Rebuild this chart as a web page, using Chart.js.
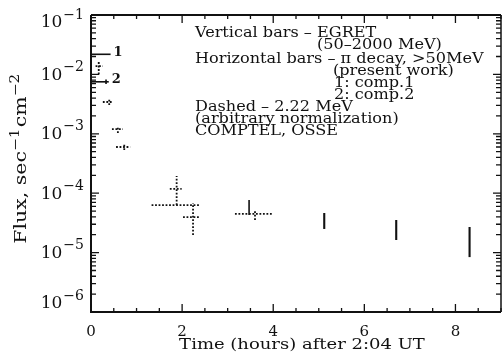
<!DOCTYPE html>
<html>
<head>
<meta charset="utf-8">
<script src="https://cdn.jsdelivr.net/npm/chart.js@4.4.0/dist/chart.umd.min.js"></script>
<style>
  html, body { margin: 0; padding: 0; background: #fff; }
  #wrap { width: 504px; height: 364px; }
</style>
</head>
<body>
<div id="wrap"><canvas id="c" width="504" height="364"></canvas></div>
<script>
// ---------- data ----------
const timeTicks = [0, 2, 4, 6, 8];
const fluxTickExponents = [-1, -2, -3, -4, -5, -6];

// EGRET vertical bars (50-2000 MeV)
const egretTime = [3.47, 5.12, 6.70, 8.31];
const egretLow  = [4.3e-5, 2.5e-5, 1.63e-5, 8.4e-6];
const egretHigh = [7.7e-5, 4.64e-5, 3.54e-5, 2.7e-5];

// pi-decay horizontal bars, comp.1 and comp.2
const piLabels = ['1', '2'];
const piStart  = [0, 0];
const piEnd    = [0.43, 0.39];
const piFlux   = [0.0218, 0.0075];
const piTickTime = [0.33];
const piTickLow  = [0.0069];
const piTickHigh = [0.0082];

// later horizontal bars (dotted in the scan)
const hbarStart = [1.33, 1.73, 2.02, 3.16];
const hbarEnd   = [2.40, 1.99, 2.40, 4.00];
const hbarFlux  = [6.3e-5, 1.18e-4, 3.97e-5, 4.47e-5];

// dotted vertical bars
const vbarTime = [1.88, 2.24, 3.60];
const vbarLow  = [6.3e-5, 1.98e-5, 3.54e-5];
const vbarHigh = [1.95e-4, 6.84e-5, 5.21e-5];

// 2.22 MeV (COMPTEL, OSSE) early points, dashed crosses
const gTime    = [0.17, 0.40, 0.59, 0.73];
const gTimeLo  = [0.10, 0.26, 0.46, 0.55];
const gTimeHi  = [0.26, 0.48, 0.70, 0.86];
const gFlux    = [1.38e-2, 3.43e-3, 1.2e-3, 6.0e-4];
const gFluxLo  = [1.0e-2, 3.05e-3, 1.03e-3, 5.33e-4];
const gFluxHi  = [1.7e-2, 4.0e-3, 1.35e-3, 7.0e-4];

const noteLines = [
  'Vertical bars \u2013 EGRET',
  '(50\u20132000 MeV)',
  'Horizontal bars \u2013 \u03c0 decay, >50MeV',
  '(present work)',
  '1: comp.1',
  '2: comp.2',
  'Dashed \u2013 2.22 MeV',
  '(arbitrary normalization)',
  'COMPTEL, OSSE'
];
const yTitleParts = ['Flux, sec', '\u22121', 'cm', '\u22122'];
const xTitle = 'Time (hours) after 2:04 UT';

// ---------- build datasets ----------
const SERIF = '"DejaVu Serif", "Liberation Serif", serif';
const datasets = [];
function seg(a, b, style) {
  datasets.push(Object.assign({
    data: [a, b], showLine: true, pointRadius: 0, borderColor: '#111',
    borderWidth: 1.6, fill: false, tension: 0
  }, style));
}
const solidThick = { borderWidth: 2.1 };
const solid = { borderWidth: 1.6 };
const dotted = { borderWidth: 1.8, borderDash: [1.8, 1.7] };

egretTime.forEach((t, i) => seg({x: t, y: egretLow[i]}, {x: t, y: egretHigh[i]}, i === 0 ? solid : solidThick));
piFlux.forEach((f, i) => seg({x: piStart[i], y: f}, {x: piEnd[i], y: f}, solid));
piTickTime.forEach((t, i) => seg({x: t, y: piTickLow[i]}, {x: t, y: piTickHigh[i]}, solid));
hbarFlux.forEach((f, i) => seg({x: hbarStart[i], y: f}, {x: hbarEnd[i], y: f}, dotted));
vbarTime.forEach((t, i) => seg({x: t, y: vbarLow[i]}, {x: t, y: vbarHigh[i]}, dotted));
gTime.forEach((t, i) => {
  seg({x: gTimeLo[i], y: gFlux[i]}, {x: gTimeHi[i], y: gFlux[i]}, dotted);
  seg({x: t, y: gFluxLo[i]}, {x: t, y: gFluxHi[i]}, dotted);
});

// ---------- plugin: frame, inward ticks, y labels, titles, notes ----------
function stretchText(ctx, s, x, y, sx) {
  ctx.save();
  ctx.translate(x, y);
  ctx.scale(sx, 1);
  ctx.fillText(s, 0, 0);
  ctx.restore();
}
const decor = {
  id: 'decor',
  afterDatasetsDraw(chart) {
    const ctx = chart.ctx;
    const a = chart.chartArea;
    const xs = chart.scales.x, ys = chart.scales.y;
    ctx.save();
    ctx.strokeStyle = '#111';
    ctx.fillStyle = '#111';
    // frame
    ctx.lineWidth = 2;
    ctx.beginPath();
    ctx.moveTo(a.left, a.top); ctx.lineTo(a.left, a.bottom); ctx.lineTo(a.right, a.bottom);
    ctx.moveTo(a.left, a.top); ctx.lineTo(a.right, a.top);
    ctx.stroke();
    ctx.lineWidth = 1.5;
    ctx.beginPath(); ctx.moveTo(a.right, a.top); ctx.lineTo(a.right, a.bottom); ctx.stroke();
    // x ticks every 0.5 h
    ctx.lineWidth = 1.3;
    ctx.beginPath();
    for (let k = 0; k <= 18; k++) {
      const v = k / 2;
      const px = xs.getPixelForValue(v);
      const len = timeTicks.includes(v) ? 8 : 4;
      ctx.moveTo(px, a.bottom); ctx.lineTo(px, a.bottom - len);
      ctx.moveTo(px, a.top); ctx.lineTo(px, a.top + len);
    }
    // y ticks (log)
    for (let e = -6; e <= -1; e++) {
      for (let m = 1; m <= 9; m++) {
        const v = m * Math.pow(10, e);
        if (v > 0.1 * 1.0001) continue;
        const py = ys.getPixelForValue(v);
        const len = m === 1 ? 8 : 5;
        ctx.moveTo(a.left, py); ctx.lineTo(a.left + len, py);
        ctx.moveTo(a.right, py); ctx.lineTo(a.right - len, py);
      }
    }
    ctx.stroke();

    // y tick labels: 10^e
    fluxTickExponents.forEach(e => {
      const p = ys.getPixelForValue(Math.pow(10, e));
      const cy = Math.min(Math.max(p, a.top + 7), a.bottom - 9);
      ctx.font = '14px ' + SERIF;
      const ex = '\u2212' + Math.abs(e);
      const w = ctx.measureText(ex).width;
      ctx.textAlign = 'right';
      ctx.textBaseline = 'middle';
      ctx.fillText(ex, a.left - 7, cy - 7);
      ctx.font = '17px ' + SERIF;
      ctx.fillText('10', a.left - 7 - w - 1, cy + 1);
    });

    // y title, rotated, with superscripts
    ctx.save();
    ctx.translate(26, 158);
    ctx.rotate(-Math.PI / 2);
    ctx.scale(1.28, 1);
    const big = '16px ' + SERIF, small = '12px ' + SERIF;
    let total = 0;
    const widths = yTitleParts.map((s, i) => {
      ctx.font = i % 2 ? small : big;
      const wd = ctx.measureText(s).width + (i % 2 ? 1 : 0);
      total += wd;
      return wd;
    });
    let x0 = -total / 2;
    ctx.textAlign = 'left';
    ctx.textBaseline = 'alphabetic';
    yTitleParts.forEach((s, i) => {
      ctx.font = i % 2 ? small : big;
      ctx.fillText(s, x0, i % 2 ? -7 : 0);
      x0 += widths[i];
    });
    ctx.restore();

    // x title (stretched serif like the scan)
    ctx.font = '15px ' + SERIF;
    ctx.textAlign = 'center';
    ctx.textBaseline = 'middle';
    stretchText(ctx, xTitle, 302, 345, 1.2);

    // labels "1", "2" at the ends of the pi-decay bars
    ctx.font = 'bold 13px ' + SERIF;
    ctx.textAlign = 'left';
    ctx.textBaseline = 'middle';
    piLabels.forEach((lab, i) => {
      ctx.fillText(lab, xs.getPixelForValue(piEnd[i]) + 3, ys.getPixelForValue(piFlux[i]) - 2);
    });

    // notes block
    const noteX = [195, 317, 195, 333, 334, 334, 195, 195, 195];
    const noteY = [33, 45, 59, 71, 83, 95, 107, 119, 131];
    ctx.font = '14px ' + SERIF;
    ctx.textAlign = 'left';
    ctx.textBaseline = 'middle';
    noteLines.forEach((s, i) => stretchText(ctx, s, noteX[i], noteY[i], 1.15));
    ctx.restore();
  }
};

new Chart(document.getElementById('c'), {
  type: 'scatter',
  data: { datasets },
  plugins: [decor],
  options: {
    responsive: false,
    animation: false,
    devicePixelRatio: 1,
    layout: { padding: { left: 0, right: 3, top: 15, bottom: 0 } },
    plugins: { legend: { display: false }, tooltip: { enabled: false } },
    scales: {
      x: {
        type: 'linear', min: 0, max: 9,
        grid: { display: false, drawTicks: false },
        border: { display: false },
        ticks: {
          stepSize: 2, includeBounds: false, autoSkip: false, maxRotation: 0,
          padding: 11, color: '#111',
          font: { family: SERIF, size: 15 },
          callback: v => timeTicks.includes(v) ? String(v) : ''
        },
        title: { display: false, text: xTitle },
        afterFit: s => { s.height = 52; }
      },
      y: {
        type: 'logarithmic', min: 1e-6, max: 1e-1,
        grid: { display: false, drawTicks: false },
        border: { display: false },
        ticks: { display: false },
        afterFit: s => { s.width = 91; }
      }
    }
  }
});
</script>
</body>
</html>
